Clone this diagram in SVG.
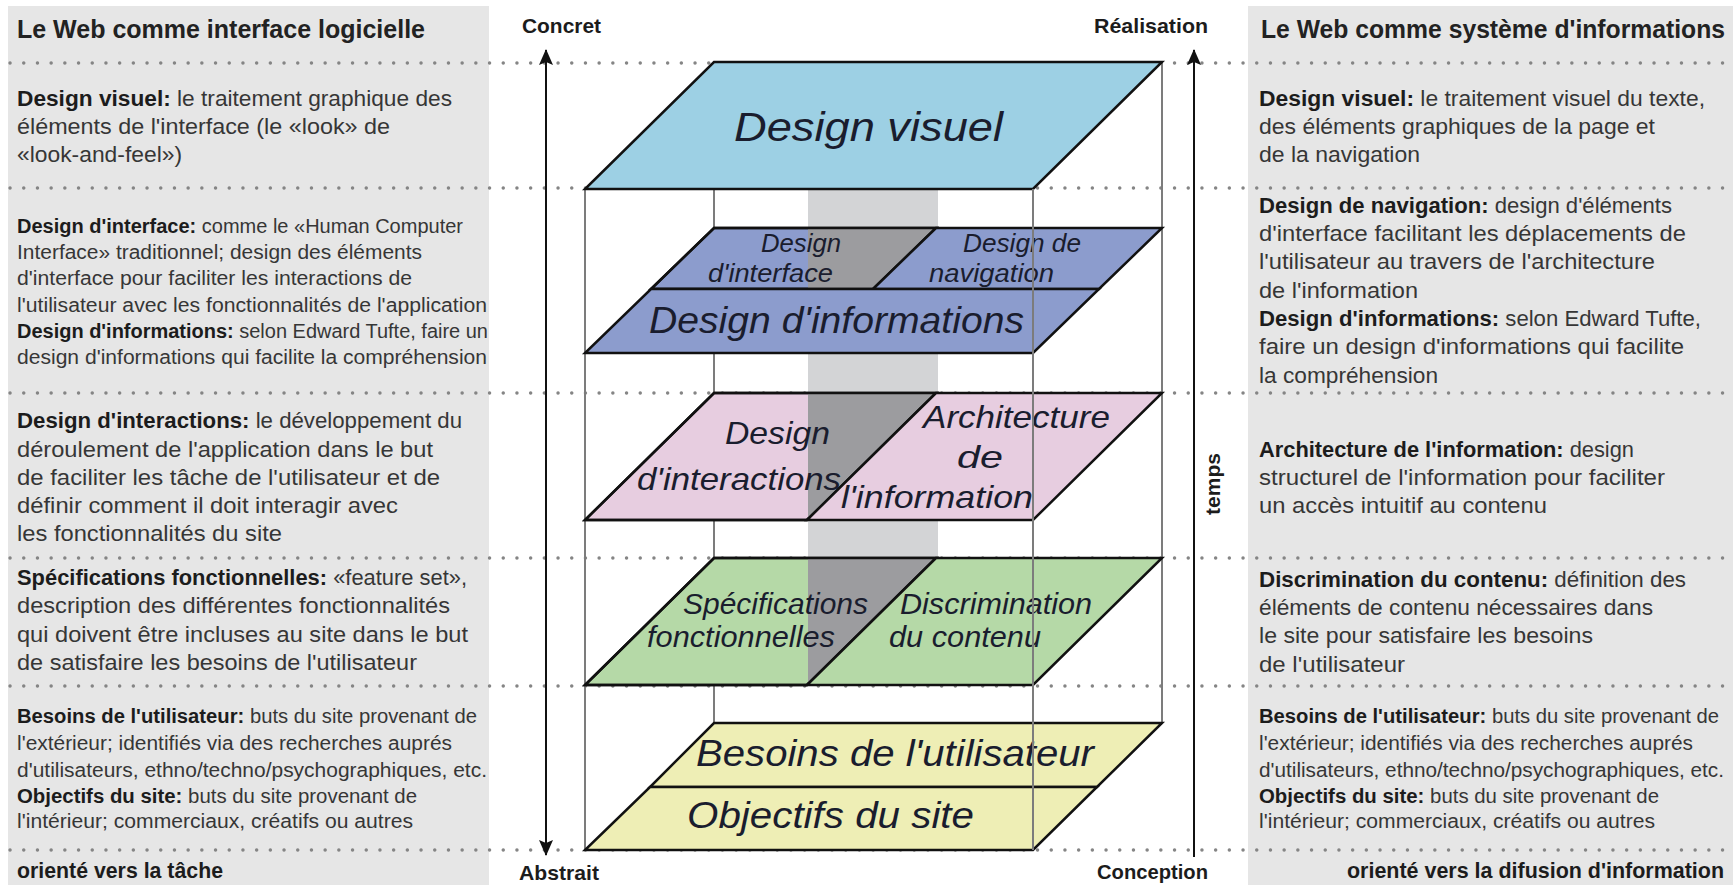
<svg xmlns="http://www.w3.org/2000/svg" width="1733" height="885" viewBox="0 0 1733 885">
<defs>
<style>
.t{font-family:"Liberation Sans",Arial,sans-serif;font-size:22px;fill:#363636}
.s{font-size:20px}
.b{font-weight:bold;fill:#1c1c1c}
.h{font-family:"Liberation Sans",Arial,sans-serif;font-size:25px;font-weight:bold;fill:#222}
.ax{font-family:"Liberation Sans",Arial,sans-serif;font-size:21px;font-weight:bold;fill:#1c1c1c}
.lbl{font-family:"Liberation Sans",Arial,sans-serif;font-style:italic;fill:#1a1d2e}
.dot{stroke:#858585;stroke-width:3.4;stroke-linecap:round;stroke-dasharray:0.1 13.6;fill:none}
.post{stroke:#7c7c7c;stroke-width:2;fill:none}
.pl{stroke:#111;stroke-width:2.5;stroke-linejoin:miter}
.dark{fill:#9c9c9f}
</style>
<marker id="ah" viewBox="0 0 16 16" refX="15" refY="8" markerWidth="16" markerHeight="16" markerUnits="userSpaceOnUse" orient="auto-start-reverse">
<path d="M0,1 L16,8 L0,15 L3,8 Z" fill="#111"/>
</marker>
</defs>
<rect width="1733" height="885" fill="#fff"/>
<g id="panels">
<rect x="8" y="6" width="481" height="879" fill="#e6e6e6"/>
<rect x="1248" y="6" width="485" height="879" fill="#e6e6e6"/>
</g>
<g id="dotted-rules">
<line class="dot" x1="10" y1="63" x2="1733" y2="63"/>
<line class="dot" x1="10" y1="188" x2="1733" y2="188"/>
<line class="dot" x1="10" y1="393" x2="1733" y2="393"/>
<line class="dot" x1="10" y1="558" x2="1733" y2="558"/>
<line class="dot" x1="10" y1="686" x2="1733" y2="686"/>
<line class="dot" x1="10" y1="850" x2="1733" y2="850"/>
</g>
<g id="box-back">
<rect x="808" y="189" width="130" height="496" fill="#d3d4d6"/>
<line class="post" x1="714" y1="62" x2="714" y2="723"/>
<line class="post" x1="1162" y1="62" x2="1162" y2="723"/>
<line class="post" x1="585" y1="189" x2="585" y2="850"/>
</g>
<g id="layer-visuel">
<polygon class="pl" points="714,62 1162,62 1033,189 585,189" fill="#9dd0e4"/>
<text class="lbl" x="734" y="141" font-size="40" textLength="269" lengthAdjust="spacingAndGlyphs">Design visuel</text>
</g>
<g id="layer-interface">
<polygon class="pl" points="714,228 936,228 873,289 651,289" fill="#8c9ccd"/>
<polygon class="dark" points="808,228 936,228 873,289 808,289"/>
<polygon points="714,228 936,228 873,289 651,289" fill="none" stroke="#111" stroke-width="2.5"/>
<text class="lbl" x="761" y="252" font-size="26" textLength="80" lengthAdjust="spacingAndGlyphs">Design</text>
<text class="lbl" x="708" y="282" font-size="26" textLength="125" lengthAdjust="spacingAndGlyphs">d'interface</text>
</g>
<g id="layer-navigation">
<polygon class="pl" points="936,228 1162,228 1099,289 873,289" fill="#8c9ccd"/>
<text class="lbl" x="963" y="252" font-size="26" textLength="118" lengthAdjust="spacingAndGlyphs">Design de</text>
<text class="lbl" x="929" y="282" font-size="26" textLength="125" lengthAdjust="spacingAndGlyphs">navigation</text>
</g>
<g id="layer-informations">
<polygon class="pl" points="651,289 1099,289 1033,353 585,353" fill="#8c9ccd"/>
<text class="lbl" x="649" y="333" font-size="36" textLength="375" lengthAdjust="spacingAndGlyphs">Design d'informations</text>
</g>
<g id="layer-interactions">
<polygon class="pl" points="714,393 936,393 807,520 585,520" fill="#e7cde0"/>
<polygon class="dark" points="808,393 936,393 807,520 808,520"/>
<polygon points="714,393 936,393 807,520 585,520" fill="none" stroke="#111" stroke-width="2.5"/>
<text class="lbl" x="725" y="444" font-size="32" textLength="105" lengthAdjust="spacingAndGlyphs">Design</text>
<text class="lbl" x="637" y="490" font-size="32" textLength="204" lengthAdjust="spacingAndGlyphs">d'interactions</text>
</g>
<g id="layer-architecture">
<polygon class="pl" points="936,393 1162,393 1033,520 807,520" fill="#e7cde0"/>
<text class="lbl" x="923" y="428" font-size="32" textLength="187" lengthAdjust="spacingAndGlyphs">Architecture</text>
<text class="lbl" x="957" y="468" font-size="32" textLength="46" lengthAdjust="spacingAndGlyphs">de</text>
<text class="lbl" x="841" y="508" font-size="32" textLength="192" lengthAdjust="spacingAndGlyphs">l'information</text>
</g>
<g id="layer-specifications">
<polygon class="pl" points="714,558 936,558 807,685 585,685" fill="#b5d9a7"/>
<polygon class="dark" points="808,558 936,558 807,685 808,685"/>
<polygon points="714,558 936,558 807,685 585,685" fill="none" stroke="#111" stroke-width="2.5"/>
<text class="lbl" x="683" y="614" font-size="30" textLength="185" lengthAdjust="spacingAndGlyphs">Spécifications</text>
<text class="lbl" x="647" y="647" font-size="30" textLength="188" lengthAdjust="spacingAndGlyphs">fonctionnelles</text>
</g>
<g id="layer-discrimination">
<polygon class="pl" points="936,558 1162,558 1033,685 807,685" fill="#b5d9a7"/>
<text class="lbl" x="900" y="614" font-size="30" textLength="192" lengthAdjust="spacingAndGlyphs">Discrimination</text>
<text class="lbl" x="889" y="647" font-size="30" textLength="152" lengthAdjust="spacingAndGlyphs">du contenu</text>
</g>
<g id="layer-besoins">
<polygon class="pl" points="714,723 1162,723 1097,787 650,787" fill="#eeeeb5"/>
<text class="lbl" x="696" y="766" font-size="36" textLength="398" lengthAdjust="spacingAndGlyphs">Besoins de l'utilisateur</text>
</g>
<g id="layer-objectifs">
<polygon class="pl" points="650,787 1097,787 1033,850 585,850" fill="#eeeeb5"/>
<text class="lbl" x="687" y="828" font-size="36" textLength="287" lengthAdjust="spacingAndGlyphs">Objectifs du site</text>
</g>
<g id="box-front">
<line class="post" x1="1033" y1="189" x2="1033" y2="850"/>
</g>
<g id="connectors">
<line x1="546" y1="855" x2="546" y2="50" stroke="#111" stroke-width="2" marker-start="url(#ah)" marker-end="url(#ah)"/>
<line x1="1194" y1="857" x2="1194" y2="50" stroke="#111" stroke-width="2" marker-end="url(#ah)"/>
</g>
<g id="axis-labels">
<text class="ax" x="522" y="33" textLength="79" lengthAdjust="spacingAndGlyphs">Concret</text>
<text class="ax" x="1094" y="33" textLength="114" lengthAdjust="spacingAndGlyphs">Réalisation</text>
<text class="ax" x="519" y="880" textLength="80" lengthAdjust="spacingAndGlyphs">Abstrait</text>
<text class="ax" x="1097" y="879" textLength="111" lengthAdjust="spacingAndGlyphs">Conception</text>
<text class="ax" transform="translate(1220,484) rotate(-90)" text-anchor="middle" font-size="20">temps</text>
</g>
<g id="left-panel">
<text class="h" x="17" y="38" textLength="408" lengthAdjust="spacingAndGlyphs">Le Web comme interface logicielle</text>
<text class="t" x="17" y="106" textLength="435" lengthAdjust="spacingAndGlyphs"><tspan class="b">Design visuel:</tspan> le traitement graphique des</text>
<text class="t" x="17" y="134" textLength="373" lengthAdjust="spacingAndGlyphs">éléments de l'interface (le «look» de</text>
<text class="t" x="17" y="162" textLength="165" lengthAdjust="spacingAndGlyphs">«look-and-feel»)</text>
<text class="t s" x="17" y="233" textLength="446" lengthAdjust="spacingAndGlyphs"><tspan class="b">Design d'interface:</tspan> comme le «Human Computer</text>
<text class="t s" x="17" y="259" textLength="405" lengthAdjust="spacingAndGlyphs">Interface» traditionnel; design des éléments</text>
<text class="t s" x="17" y="285" textLength="395" lengthAdjust="spacingAndGlyphs">d'interface pour faciliter les interactions de</text>
<text class="t s" x="17" y="312" textLength="470" lengthAdjust="spacingAndGlyphs">l'utilisateur avec les fonctionnalités de l'application</text>
<text class="t s" x="17" y="338" textLength="471" lengthAdjust="spacingAndGlyphs"><tspan class="b">Design d'informations:</tspan> selon Edward Tufte, faire un</text>
<text class="t s" x="17" y="364" textLength="470" lengthAdjust="spacingAndGlyphs">design d'informations qui facilite la compréhension</text>
<text class="t" x="17" y="428" textLength="445" lengthAdjust="spacingAndGlyphs"><tspan class="b">Design d'interactions:</tspan> le développement du</text>
<text class="t" x="17" y="457" textLength="416" lengthAdjust="spacingAndGlyphs">déroulement de l'application dans le but</text>
<text class="t" x="17" y="485" textLength="423" lengthAdjust="spacingAndGlyphs">de faciliter les tâche de l'utilisateur et de</text>
<text class="t" x="17" y="513" textLength="381" lengthAdjust="spacingAndGlyphs">définir comment il doit interagir avec</text>
<text class="t" x="17" y="541" textLength="265" lengthAdjust="spacingAndGlyphs">les fonctionnalités du site</text>
<text class="t" x="17" y="585" textLength="450" lengthAdjust="spacingAndGlyphs"><tspan class="b">Spécifications fonctionnelles:</tspan> «feature set»,</text>
<text class="t" x="17" y="613" textLength="433" lengthAdjust="spacingAndGlyphs">description des différentes fonctionnalités</text>
<text class="t" x="17" y="642" textLength="451" lengthAdjust="spacingAndGlyphs">qui doivent être incluses au site dans le but</text>
<text class="t" x="17" y="670" textLength="400" lengthAdjust="spacingAndGlyphs">de satisfaire les besoins de l'utilisateur</text>
<text class="t s" x="17" y="723" textLength="460" lengthAdjust="spacingAndGlyphs"><tspan class="b">Besoins de l'utilisateur:</tspan> buts du site provenant de</text>
<text class="t s" x="17" y="750" textLength="435" lengthAdjust="spacingAndGlyphs">l'extérieur; identifiés via des recherches auprés</text>
<text class="t s" x="17" y="777" textLength="470" lengthAdjust="spacingAndGlyphs">d'utilisateurs, ethno/techno/psychographiques, etc.</text>
<text class="t s" x="17" y="803" textLength="400" lengthAdjust="spacingAndGlyphs"><tspan class="b">Objectifs du site:</tspan> buts du site provenant de</text>
<text class="t s" x="17" y="828" textLength="396" lengthAdjust="spacingAndGlyphs">l'intérieur; commerciaux, créatifs ou autres</text>
<text class="t b" x="17" y="878" textLength="206" lengthAdjust="spacingAndGlyphs">orienté vers la tâche</text>
</g>
<g id="right-panel">
<text class="h" x="1261" y="38" textLength="464" lengthAdjust="spacingAndGlyphs">Le Web comme système d'informations</text>
<text class="t" x="1259" y="106" textLength="446" lengthAdjust="spacingAndGlyphs"><tspan class="b">Design visuel:</tspan> le traitement visuel du texte,</text>
<text class="t" x="1259" y="134" textLength="396" lengthAdjust="spacingAndGlyphs">des éléments graphiques de la page et</text>
<text class="t" x="1259" y="162" textLength="161" lengthAdjust="spacingAndGlyphs">de la navigation</text>
<text class="t" x="1259" y="213" textLength="413" lengthAdjust="spacingAndGlyphs"><tspan class="b">Design de navigation:</tspan> design d'éléments</text>
<text class="t" x="1259" y="241" textLength="427" lengthAdjust="spacingAndGlyphs">d'interface facilitant les déplacements de</text>
<text class="t" x="1259" y="269" textLength="396" lengthAdjust="spacingAndGlyphs">l'utilisateur au travers de l'architecture</text>
<text class="t" x="1259" y="298" textLength="159" lengthAdjust="spacingAndGlyphs">de l'information</text>
<text class="t" x="1259" y="326" textLength="442" lengthAdjust="spacingAndGlyphs"><tspan class="b">Design d'informations:</tspan> selon Edward Tufte,</text>
<text class="t" x="1259" y="354" textLength="425" lengthAdjust="spacingAndGlyphs">faire un design d'informations qui facilite</text>
<text class="t" x="1259" y="383" textLength="179" lengthAdjust="spacingAndGlyphs">la compréhension</text>
<text class="t" x="1259" y="457" textLength="375" lengthAdjust="spacingAndGlyphs"><tspan class="b">Architecture de l'information:</tspan> design</text>
<text class="t" x="1259" y="485" textLength="406" lengthAdjust="spacingAndGlyphs">structurel de l'information pour faciliter</text>
<text class="t" x="1259" y="513" textLength="288" lengthAdjust="spacingAndGlyphs">un accès intuitif au contenu</text>
<text class="t" x="1259" y="587" textLength="427" lengthAdjust="spacingAndGlyphs"><tspan class="b">Discrimination du contenu:</tspan> définition des</text>
<text class="t" x="1259" y="615" textLength="394" lengthAdjust="spacingAndGlyphs">éléments de contenu nécessaires dans</text>
<text class="t" x="1259" y="643" textLength="334" lengthAdjust="spacingAndGlyphs">le site pour satisfaire les besoins</text>
<text class="t" x="1259" y="672" textLength="146" lengthAdjust="spacingAndGlyphs">de l'utilisateur</text>
<text class="t s" x="1259" y="723" textLength="460" lengthAdjust="spacingAndGlyphs"><tspan class="b">Besoins de l'utilisateur:</tspan> buts du site provenant de</text>
<text class="t s" x="1259" y="750" textLength="434" lengthAdjust="spacingAndGlyphs">l'extérieur; identifiés via des recherches auprés</text>
<text class="t s" x="1259" y="777" textLength="465" lengthAdjust="spacingAndGlyphs">d'utilisateurs, ethno/techno/psychographiques, etc.</text>
<text class="t s" x="1259" y="803" textLength="400" lengthAdjust="spacingAndGlyphs"><tspan class="b">Objectifs du site:</tspan> buts du site provenant de</text>
<text class="t s" x="1259" y="828" textLength="396" lengthAdjust="spacingAndGlyphs">l'intérieur; commerciaux, créatifs ou autres</text>
<text class="t b" x="1347" y="878" textLength="377" lengthAdjust="spacingAndGlyphs">orienté vers la difusion d'information</text>
</g>
</svg>
